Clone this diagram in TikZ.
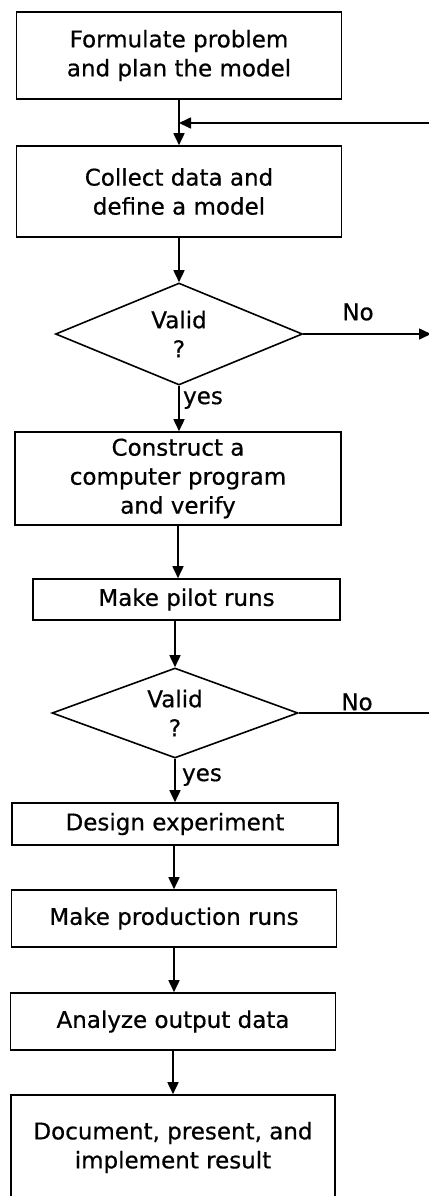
\documentclass[tikz,border=0pt]{standalone}
\usepackage{fontspec}
\setmainfont{DejaVu Sans}[FakeBold=0.6]
\usetikzlibrary{shapes.geometric,arrows.meta}

\begin{document}
\begin{tikzpicture}[x=0.5pt, y=-0.5pt,
    box/.style={draw, rectangle, line width=0.8pt, align=center, inner sep=0pt,
        minimum width=162.5pt, font=\fontsize{11.5}{14.5}\selectfont},
    decision/.style={draw, diamond, aspect=2.4, line width=0.8pt, align=center,
        inner sep=0pt, font=\fontsize{11.5}{14.5}\selectfont},
    lbl/.style={inner sep=0pt, font=\fontsize{11.5}{14.5}\selectfont},
    arrow/.style={-{Triangle[length=6pt,width=5.5pt]}, line width=0.8pt}
]
\useasboundingbox (0,0) rectangle (429,1196);
\clip (0,0) rectangle (429,1196);

% Boxes and decisions
\node[box, minimum height=43.5pt] (formulate) at (179,55.5) {Formulate problem\\and plan the model};
\node[box, minimum height=45.5pt] (collect) at (179,191.5) {Collect data and\\define a model};
\node[decision, minimum width=123.5pt, minimum height=51pt] (valid1) at (179,334) {Valid\\?};
\node[box, minimum width=163pt, minimum height=46.5pt] (construct) at (178,478.5) {Construct a\\computer program\\and verify};
\node[box, minimum width=153.5pt, minimum height=20.5pt] (pilot) at (186.5,599.5) {Make pilot runs};
\node[decision, minimum width=123pt, minimum height=45pt] (valid2) at (175,713) {Valid\\?};
\node[box, minimum width=163pt, minimum height=21pt] (design) at (175,824) {Design experiment};
\node[box, minimum height=28.5pt] (production) at (174,918.5) {Make production runs};
\node[box, minimum height=28.5pt] (analyze) at (173,1021.5) {Analyze output data};
\node[box, minimum width=162pt, minimum height=52.5pt] (document) at (173,1147.5) {Document, present, and\\implement result};

% Labels
\node[lbl] (no1) at (358,312) {No};
\node[lbl] (no2) at (357,702) {No};
\node[lbl] (yes1) at (203,400) {yes};
\node[lbl] (yes2) at (202,777) {yes};

% Free ends at the right edge
\coordinate (loopin) at (429,123);
\coordinate (noend1) at (431,334);
\coordinate (noend2) at (429,713);

% Arrows
\draw[arrow] (formulate) -- (collect);
\draw[arrow] (loopin) -- (loopin -| formulate.south);
\draw[arrow] (collect) -- (valid1);
\draw[arrow] (valid1.south) -- (valid1.south |- construct.north);
\draw[arrow] (valid1.east) -- (noend1);
\draw[arrow] (construct.south) -- (construct.south |- pilot.north);
\draw[arrow] (valid2.north |- pilot.south) -- (valid2.north);
\draw[line width=0.8pt] (valid2.east) -- (noend2);
\draw[arrow] (valid2.south) -- (valid2.south |- design.north);
\draw[arrow] (production.north |- design.south) -- (production.north);
\draw[arrow] (production.south) -- (production.south |- analyze.north);
\draw[arrow] (analyze.south) -- (analyze.south |- document.north);

\end{tikzpicture}
\end{document}
